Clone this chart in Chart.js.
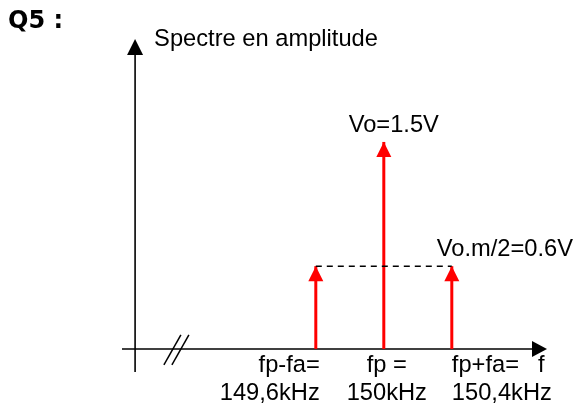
<!DOCTYPE html>
<html>
<head>
<meta charset="utf-8">
<script src="https://cdn.jsdelivr.net/npm/chart.js@4"></script>
<style>
  html, body { margin: 0; background: #fff; }
  #wrap { width: 578px; height: 406px; }
</style>
</head>
<body>
<div id="wrap"><canvas id="spectre"></canvas></div>
<script>
// Q5 : spectre en amplitude d'un signal AM

const freqs = [149.6, 150, 150.4];      // kHz : fp-fa, fp, fp+fa
const amplitudes = [0.6, 1.5, 0.6];     // V
const labelsHaut = ["", "Vo=1.5V", "Vo.m/2=0.6V"];
const labelsBas = [["fp-fa=", "149,6kHz"], ["fp =", "150kHz"], ["fp+fa=", "150,4kHz"]];

// bornes des axes (l'axe f est "coupé" avant 149,6 kHz)
const xMin = 148.46, xMax = 150.96;
const yMin = -0.167, yMax = 2.246;
const origineX = 148.537;
const coupureX = 148.78;

const ROUGE = "#ff0000";
const POLICE = "23.7px 'Liberation Sans', Arial, sans-serif";

function fleche(ctx, x, y, dir, w, h) {
  ctx.beginPath();
  if (dir === "haut") {
    ctx.moveTo(x, y);
    ctx.lineTo(x - w / 2, y + h);
    ctx.lineTo(x + w / 2, y + h);
  } else {
    ctx.moveTo(x, y);
    ctx.lineTo(x - h, y - w / 2);
    ctx.lineTo(x - h, y + w / 2);
  }
  ctx.closePath();
  ctx.fill();
}

const dessinSpectre = {
  id: "dessinSpectre",
  beforeDatasetsDraw(chart) {
    const { ctx, chartArea: a, scales: { x, y } } = chart;
    const x0 = x.getPixelForValue(origineX);
    const y0 = y.getPixelForValue(0);
    ctx.save();
    ctx.strokeStyle = "#000";
    ctx.fillStyle = "#000";
    ctx.lineWidth = 1.6;
    // axe vertical
    ctx.beginPath();
    ctx.moveTo(x0, a.bottom);
    ctx.lineTo(x0, a.top + 10);
    ctx.stroke();
    fleche(ctx, x0, a.top, "haut", 16, 16);
    // axe horizontal
    ctx.beginPath();
    ctx.moveTo(a.left, y0);
    ctx.lineTo(a.right - 10, y0);
    ctx.stroke();
    fleche(ctx, a.right, y0, "droite", 16, 15);
    // coupure //
    const xc = x.getPixelForValue(coupureX);
    ctx.lineWidth = 1.5;
    [-4, 4].forEach(d => {
      ctx.beginPath();
      ctx.moveTo(xc + d - 8.5, y0 + 16);
      ctx.lineTo(xc + d + 8.5, y0 - 14);
      ctx.stroke();
    });
    ctx.restore();
  },
  afterDatasetsDraw(chart) {
    const { ctx, chartArea: a, scales: { x, y } } = chart;
    const x0 = x.getPixelForValue(origineX);
    const y0 = y.getPixelForValue(0);
    ctx.save();
    // pointes des raies
    ctx.fillStyle = ROUGE;
    freqs.forEach((f, i) => {
      fleche(ctx, x.getPixelForValue(f), y.getPixelForValue(amplitudes[i]), "haut", 15, 15);
    });
    // textes
    ctx.fillStyle = "#000";
    ctx.font = "bold 24px 'DejaVu Sans', Verdana, sans-serif";
    ctx.textAlign = "left";
    ctx.textBaseline = "alphabetic";
    ctx.fillText("Q5 :", 8, 28);
    ctx.font = POLICE;
    ctx.fillText("Spectre en amplitude", x0 + 19, 46);
    ctx.fillText("f", a.right - 9, y0 + 23);
    freqs.forEach((f, i) => {
      const px = x.getPixelForValue(f);
      const py = y.getPixelForValue(amplitudes[i]);
      if (i === 1) {
        ctx.textAlign = "center";
        ctx.fillText(labelsHaut[i], px + 10, py - 10);
      } else if (i === 2) {
        ctx.textAlign = "left";
        ctx.fillText(labelsHaut[i], px - 15, py - 10);
      }
      let ax, al;
      if (i === 0) { al = "right"; ax = px + 4; }
      else if (i === 1) { al = "center"; ax = px + 3; }
      else { al = "left"; ax = px; }
      ctx.textAlign = al;
      ctx.fillText(labelsBas[i][0], ax, y0 + 23);
      ctx.fillText(labelsBas[i][1], ax, y0 + 51);
    });
    ctx.restore();
  }
};

const raies = freqs.map((f, i) => ({
  data: [{ x: f, y: 0 }, { x: f, y: amplitudes[i] }],
  borderColor: ROUGE,
  borderWidth: 3,
  pointRadius: 0,
  showLine: true
}));

const pointilles = {
  data: [{ x: freqs[0], y: amplitudes[0] }, { x: freqs[2], y: amplitudes[2] }],
  borderColor: "#000",
  borderWidth: 1.5,
  borderDash: [6, 5],
  pointRadius: 0,
  showLine: true
};

new Chart(document.getElementById("spectre"), {
  type: "scatter",
  data: { datasets: [pointilles, ...raies] },
  options: {
    responsive: true,
    maintainAspectRatio: false,
    animation: false,
    layout: { padding: { left: 122, right: 31, top: 39, bottom: 34 } },
    plugins: { legend: { display: false }, tooltip: { enabled: false } },
    scales: {
      x: { type: "linear", min: xMin, max: xMax, display: false },
      y: { type: "linear", min: yMin, max: yMax, display: false }
    }
  },
  plugins: [dessinSpectre]
});
</script>
</body>
</html>
